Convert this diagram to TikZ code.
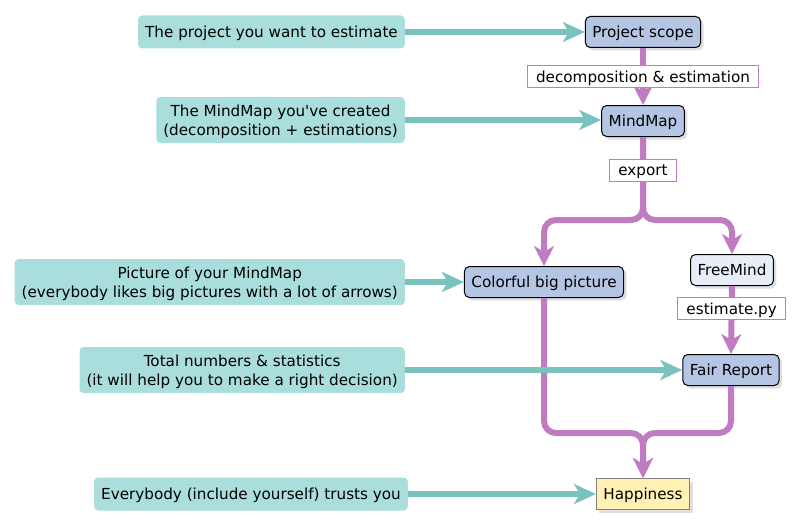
\documentclass[tikz,border=0pt]{standalone}
\usepackage{fontspec}
\setmainfont{DejaVu Sans}
\usetikzlibrary{arrows.meta, positioning, shadows}

\definecolor{inputfill}{HTML}{AADEDC}
\definecolor{inputline}{HTML}{79C2BE}
\definecolor{flowline}{HTML}{C07CC0}
\definecolor{stepfill}{HTML}{B4C6E3}
\definecolor{toolfill}{HTML}{E6EDF7}
\definecolor{goalfill}{HTML}{FFF1B3}

\begin{document}
\begin{tikzpicture}[x=1pt, y=-1pt, font=\fontsize{15.2}{19}\selectfont,
    input/.style={fill=inputfill, rounded corners=4pt, inner xsep=7pt,
      minimum height=33pt, align=center, anchor=east, text depth=0pt},
    stepbox/.style={draw, line width=1pt, fill=stepfill, rounded corners=5pt,
      inner xsep=7pt, minimum height=31pt, text depth=0pt,
      drop shadow={shadow xshift=3pt, shadow yshift=-3pt, opacity=0.25}},
    toolbox/.style={stepbox, fill=toolfill},
    goalbox/.style={draw=black!50, line width=1pt, fill=goalfill,
      inner xsep=7pt, minimum height=31pt, text depth=0pt,
      drop shadow={shadow xshift=3pt, shadow yshift=-3pt, opacity=0.25}},
    lbl/.style={fill=white, draw=flowline, line width=1pt, sharp corners,
      inner xsep=9pt, inner ysep=1pt, minimum height=22pt, text depth=0pt},
    flow/.style={draw=flowline, line width=6pt, rounded corners=12pt,
      -{Stealth[length=20pt, width=20pt, inset=6pt]}},
    feed/.style={draw=inputline, line width=6pt,
      -{Stealth[length=22pt, width=20pt, inset=6pt]}}]
  \useasboundingbox (0,0) rectangle (803,527);

  % main chain
  \node[stepbox] (scope) at (643,32) {Project scope};
  \node[stepbox] (mindmap) at (643,121) {MindMap};
  \node[stepbox] (colorful) at (544,282) {Colorful big picture};
  \node[toolbox] (freemind) at (732,270) {FreeMind};
  \node[stepbox] (report) at (731,370) {Fair Report};
  \node[goalbox] (happy) at (643,494) {Happiness};
  \coordinate (split) at (643,220);
  \coordinate (merge) at (643,433);

  % inputs
  \node[input] (in1) at (405,32) {The project you want to estimate};
  \node[input, minimum height=46pt] (in2) at (405,120)
    {The MindMap you\textquotesingle ve created\\(decomposition + estimations)};
  \node[input, minimum height=46pt] (in3) at (405,282)
    {Picture of your MindMap\\(everybody likes big pictures with a lot of arrows)};
  \node[input, minimum height=46pt] (in4) at (405,370)
    {Total numbers \& statistics\\(it will help you to make a right decision)};
  \node[input] (in5) at (408,494) {Everybody (include yourself) trusts you};

  % purple flow
  \draw[flow] (scope) -- node[lbl] {decomposition \& estimation} (mindmap);
  \draw[flow] (mindmap.south) -- (split) -| (colorful.north);
  \draw[flow] (mindmap.south) -- node[lbl, pos=0.4] {export} (split) -| (freemind.north);
  \draw[flow] (freemind.south) -- node[lbl, pos=0.33] {estimate.py} (report.north);
  \draw[flow] (colorful.south) |- (merge) -- (happy.north);
  \draw[flow] (report.south) |- (merge) -- (happy.north);

  % teal feeds
  \draw[feed] (in1.east) -- (scope.west);
  \draw[feed] (in2.east) -- (mindmap.west |- in2.east);
  \draw[feed] (in3.east) -- (colorful.west);
  \draw[feed] (in4.east) -- (report.west);
  \draw[feed] (in5.east) -- (happy.west);
\end{tikzpicture}
\end{document}
